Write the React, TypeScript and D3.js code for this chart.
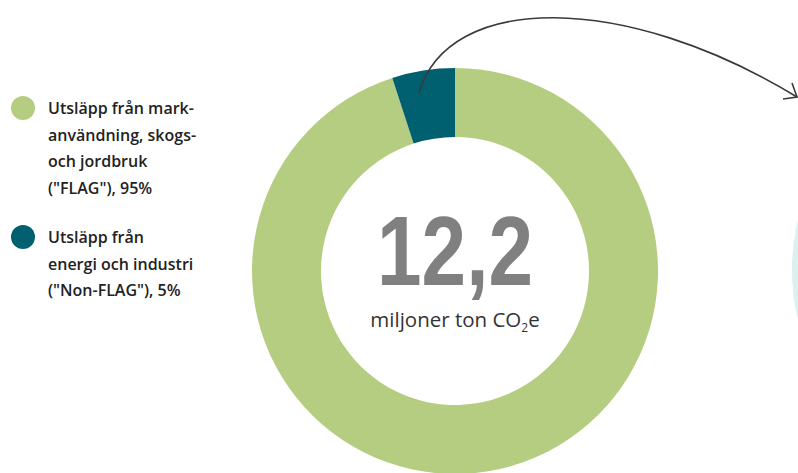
import { useEffect, useRef } from "react";
import * as d3 from "d3";

const segments = ["FLAG", "Non-FLAG"];
const shares = [95, 5];
const colors = ["#b5cd80", "#00606f"];
const legendLines = [
  ["Utsläpp från mark-", "användning, skogs-", "och jordbruk", "(\"FLAG\"), 95%"],
  ["Utsläpp från", "energi och industri", "(\"Non-FLAG\"), 5%"],
];
const totalLabel = "12,2";

const W = 798;
const H = 473;

export default function App() {
  const ref = useRef<SVGSVGElement>(null);

  useEffect(() => {
    const svg = d3.select(ref.current);
    svg.selectAll("*").remove();

    const cx = 455;
    const cy = 271;
    const outerR = 203;
    const innerR = 134;

    // faint circle peeking in at the right edge
    svg
      .append("circle")
      .attr("cx", 1003)
      .attr("cy", 270)
      .attr("r", 211)
      .attr("fill", "#dcf0f0");

    const pie = d3
      .pie<number>()
      .sort(null)
      .value((d) => d);
    const arc = d3
      .arc<d3.PieArcDatum<number>>()
      .innerRadius(innerR)
      .outerRadius(outerR);

    const g = svg.append("g").attr("transform", `translate(${cx},${cy})`);
    g.selectAll("path")
      .data(pie(shares))
      .join("path")
      .attr("d", arc)
      .attr("fill", (d, i) => colors[i]);

    g.append("text")
      .attr("x", 0)
      .attr("y", 14)
      .attr("text-anchor", "middle")
      .attr("fill", "#808080")
      .attr("textLength", 156)
      .attr("lengthAdjust", "spacingAndGlyphs")
      .style("font-family", "'Liberation Sans', sans-serif")
      .style("font-weight", "bold")
      .style("font-size", "98px")
      .text(totalLabel);

    const sub = g
      .append("text")
      .attr("x", 0)
      .attr("y", 56)
      .attr("text-anchor", "middle")
      .attr("fill", "#333")
      .style("font-family", "'Open Sans', sans-serif")
      .style("font-size", "20.5px");
    sub.append("tspan").text("miljoner ton CO");
    sub.append("tspan").attr("dy", 5).style("font-size", "12px").text("2");
    sub.append("tspan").attr("dy", -5).text("e");

    // arrow
    svg
      .append("path")
      .attr("d", "M419,93 C448,-8 625,-8 797,97")
      .attr("fill", "none")
      .attr("stroke", "#3a3a3a")
      .attr("stroke-width", 1.6);
    svg
      .append("path")
      .attr("d", "M792,83 L797,97 L783,99")
      .attr("fill", "none")
      .attr("stroke", "#3a3a3a")
      .attr("stroke-width", 1.6);

    // legend
    const legendY = [108, 237];
    const lg = svg
      .selectAll("g.legend")
      .data(segments)
      .join("g")
      .attr("class", "legend")
      .attr("transform", (d, i) => `translate(0,${legendY[i]})`);
    lg.append("circle")
      .attr("cx", 23)
      .attr("cy", 0)
      .attr("r", 12)
      .attr("fill", (d, i) => colors[i]);
    lg.each(function (d, i) {
      const t = d3
        .select(this)
        .append("text")
        .attr("fill", "#222")
        .style("font-family", "'Open Sans', sans-serif")
        .style("font-weight", 600)
        .style("font-size", "16px");
      legendLines[i].forEach((line, j) => {
        t.append("tspan")
          .attr("x", 48)
          .attr("y", 6 + j * 26.5)
          .text(line);
      });
    });
  }, []);

  return (
    <svg
      ref={ref}
      width={W}
      height={H}
      style={{ position: "absolute", left: 0, top: 0, background: "#fff" }}
    />
  );
}
